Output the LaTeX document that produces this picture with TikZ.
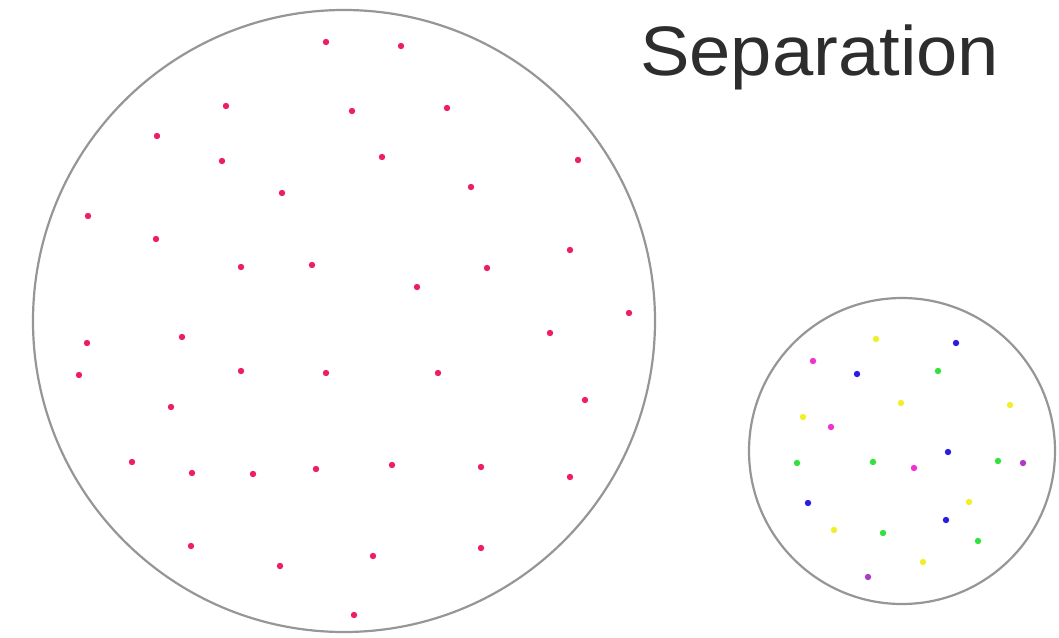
\documentclass[tikz,border=0pt]{standalone}
\usepackage{fontspec}
\setmainfont{Liberation Sans}
\definecolor{ringgray}{RGB}{150,150,150}
\definecolor{dotred}{RGB}{238,30,98}
\definecolor{dotyellow}{RGB}{240,240,40}
\definecolor{dotblue}{RGB}{40,30,225}
\definecolor{dotgreen}{RGB}{50,225,60}
\definecolor{dotmagenta}{RGB}{240,50,210}
\definecolor{dotpurple}{RGB}{170,60,200}
\definecolor{titlegray}{RGB}{45,45,45}
\begin{document}
\begin{tikzpicture}[x=1pt,y=-1pt,
  ring/.style={draw=ringgray, line width=2.2pt},
  pt/.style={fill=#1},
  title/.style={anchor=base west, inner sep=0pt, text=titlegray,
    font=\fontsize{70}{70}\selectfont, xscale=1.06}
]
\useasboundingbox (0,0) rectangle (1059,637);
\fill[white] (0,0) rectangle (1059,637);
% large group
\draw[ring] (344,321) circle[radius=311];
\foreach \p in {(326,42),(401,46),(226,106),(352,111),(447,108),(157,136),
  (222,161),(382,157),(578,160),(282,193),(471,187),(88,216),(156,239),
  (570,250),(241,267),(312,265),(487,268),(417,287),(629,313),(550,333),
  (87,343),(182,337),(79,375),(241,371),(326,373),(438,373),(585,400),
  (171,407),(132,462),(192,473),(253,474),(316,469),(392,465),(481,467),
  (570,477),(191,546),(280,566),(373,556),(481,548),(354,615)}
  \fill[pt=dotred] \p circle[radius=3.2];
% small group
\draw[ring] (902,451) circle[radius=153];
\foreach \p in {(876,339),(901,403),(1010,405),(803,417),(969,502),(834,530),(923,562)}
  \fill[pt=dotyellow] \p circle[radius=3.2];
\foreach \p in {(956,343),(857,374),(948,452),(808,503),(946,520)}
  \fill[pt=dotblue] \p circle[radius=3.2];
\foreach \p in {(938,371),(797,463),(873,462),(998,461),(883,533),(978,541)}
  \fill[pt=dotgreen] \p circle[radius=3.2];
\foreach \p in {(813,361),(831,427),(914,468)}
  \fill[pt=dotmagenta] \p circle[radius=3.2];
\foreach \p in {(1023,463),(868,577)}
  \fill[pt=dotpurple] \p circle[radius=3.2];
\node[title] (sep) at (640,75) {Separation};
\end{tikzpicture}
\end{document}
